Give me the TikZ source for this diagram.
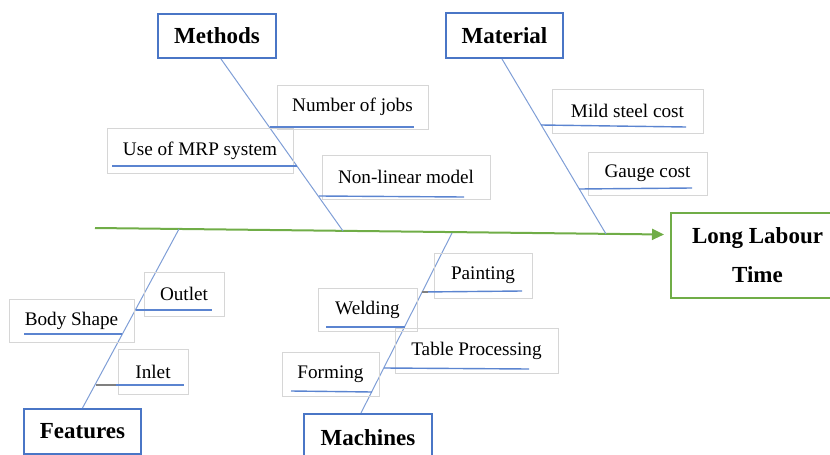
\documentclass[tikz,border=0pt]{standalone}
\usepackage{fontspec}
\setmainfont{Liberation Serif}
\usetikzlibrary{arrows.meta}
\definecolor{hdrblue}{HTML}{4A76C6}
\definecolor{bonebl}{HTML}{7F9ED6}
\definecolor{ulbl}{HTML}{5B84D0}
\definecolor{boxgray}{HTML}{D6D6D6}
\definecolor{spgreen}{HTML}{70AD47}

\begin{document}
\begin{tikzpicture}[x=0.5pt, y=-0.5pt,
  hdr/.style={draw=hdrblue, line width=1pt, inner sep=0pt,
    font=\fontsize{11.5}{19.5}\selectfont\bfseries},
  item/.style={draw=boxgray, line width=0.4pt, inner sep=0pt,
    font=\fontsize{9.6}{11}\selectfont},
  bone/.style={draw=bonebl, line width=0.5pt},
  uline/.style={draw=ulbl, line width=0.7pt}]
  \useasboundingbox (0,0) rectangle (830,455);
  % effect and spine (box runs off the right edge)
  \node[inner sep=0pt, align=center, minimum width=100pt, minimum height=42.5pt,
    font=\fontsize{11.5}{19.5}\selectfont\bfseries] (effect) at (757.5,255.5) {Long Labour\\ Time};
  \coordinate (edge) at (830,0);
  \draw[spgreen, line width=1pt] (effect.north -| edge) -- ([xshift=6.75pt]effect.north west)
    -- ([xshift=6.75pt]effect.south west) -- (effect.south -| edge);
  \coordinate (tail) at (95,228);
  \coordinate (head) at (664,234.5);
  \draw[spgreen, line width=1pt, -{Triangle[length=6pt,width=5.5pt]}] (tail) -- (head);
  \coordinate (mj) at (343,231);
  \coordinate (mt) at (606,234);
  \coordinate (fj) at (179,229);
  \coordinate (mc) at (452,233);
  % category heads
  \node[hdr, minimum width=59pt, minimum height=22pt] (methods) at (217,36) {Methods};
  \node[hdr, minimum width=58.5pt, minimum height=22.5pt] (material) at (504.5,35.5) {Material};
  \node[hdr, minimum width=58.5pt, minimum height=22.5pt] (features) at (82.5,431.5) {Features};
  \node[hdr, minimum width=64pt, minimum height=24pt] (machines) at (368,438) {Machines};
  % bones
  \draw[bone] ([xshift=2pt]methods.south) -- (mj);
  \draw[bone] ([xshift=-1.25pt]material.south) -- (mt);
  \draw[bone] (fj) -- (features.north);
  \draw[bone] (mc) -- ([xshift=-3.5pt]machines.north);
  % methods causes
  \node[item, minimum width=75.5pt, minimum height=22pt] (jobs) at (352.5,107) {Number of jobs};
  \node[item, minimum width=93pt, minimum height=22.5pt] (mrp) at (200,150.5) {Use of MRP system};
  \node[item, minimum width=84pt, minimum height=22pt] (nonlin) at (406,177) {Non-linear model};
  \coordinate (jobs1) at (270,127); \coordinate (jobs2) at (414,127);
  \coordinate (mrp1) at (112,166); \coordinate (mrp2) at (297,166);
  \coordinate (nonlin1) at (319,196); \coordinate (nonlin2) at (464,197);
  \draw[uline] (jobs1) -- (jobs2);
  \draw[uline] (mrp1) -- (mrp2);
  \draw[uline] (nonlin1) -- (nonlin2);
  % material causes
  \node[item, minimum width=75.5pt, minimum height=22pt] (mild) at (627.5,111) {Mild steel cost};
  \node[item, minimum width=59.5pt, minimum height=21.5pt] (gauge) at (647.5,173.5) {Gauge cost};
  \coordinate (mild1) at (541,125); \coordinate (mild2) at (686,127);
  \coordinate (gauge1) at (579,189); \coordinate (gauge2) at (692,188);
  \draw[uline] (mild1) -- (mild2);
  \draw[uline] (gauge1) -- (gauge2);
  % features causes
  \node[item, minimum width=40pt, minimum height=22pt] (outlet) at (184,294) {Outlet};
  \node[item, minimum width=62.5pt, minimum height=21.5pt] (body) at (71.5,320.5) {Body Shape};
  \node[item, minimum width=35pt, minimum height=22.5pt] (inlet) at (153,371.5) {Inlet};
  \coordinate (outlet1) at (136,310); \coordinate (outlet2) at (212,310);
  \coordinate (body1) at (24,334); \coordinate (body2) at (122,334);
  \coordinate (inlet1) at (96,385); \coordinate (inlet2) at (184,385);
  \draw[uline] (outlet1) -- (outlet2);
  \draw[uline] (body1) -- (body2);
  \draw[uline] (inlet1) -- (inlet2);
  % machines causes
  \node[item, minimum width=49pt, minimum height=22.5pt] (paint) at (483,275.5) {Painting};
  \node[item, minimum width=49.5pt, minimum height=21.5pt] (weld) at (367.5,309.5) {Welding};
  \node[item, minimum width=81.5pt, minimum height=22.5pt] (table) at (476.5,350.5) {Table Processing};
  \node[item, minimum width=48.5pt, minimum height=22pt] (form) at (330.5,374) {Forming};
  \coordinate (paint1) at (422,292); \coordinate (paint2) at (522,291);
  \coordinate (weld1) at (326,327); \coordinate (weld2) at (405,327);
  \coordinate (table1) at (384,368); \coordinate (table2) at (529,369);
  \coordinate (form1) at (291,391); \coordinate (form2) at (372,392);
  \draw[uline] (paint1) -- (paint2);
  \draw[uline] (weld1) -- (weld2);
  \draw[uline] (table1) -- (table2);
  \draw[uline] (form1) -- (form2);
  % painting and inlet joints are grey near the bone
  \draw[gray, line width=0.7pt] (paint1) -- ++(6,0);
  \draw[gray, line width=0.7pt] (inlet1) -- ++(20,0);
\end{tikzpicture}
\end{document}
